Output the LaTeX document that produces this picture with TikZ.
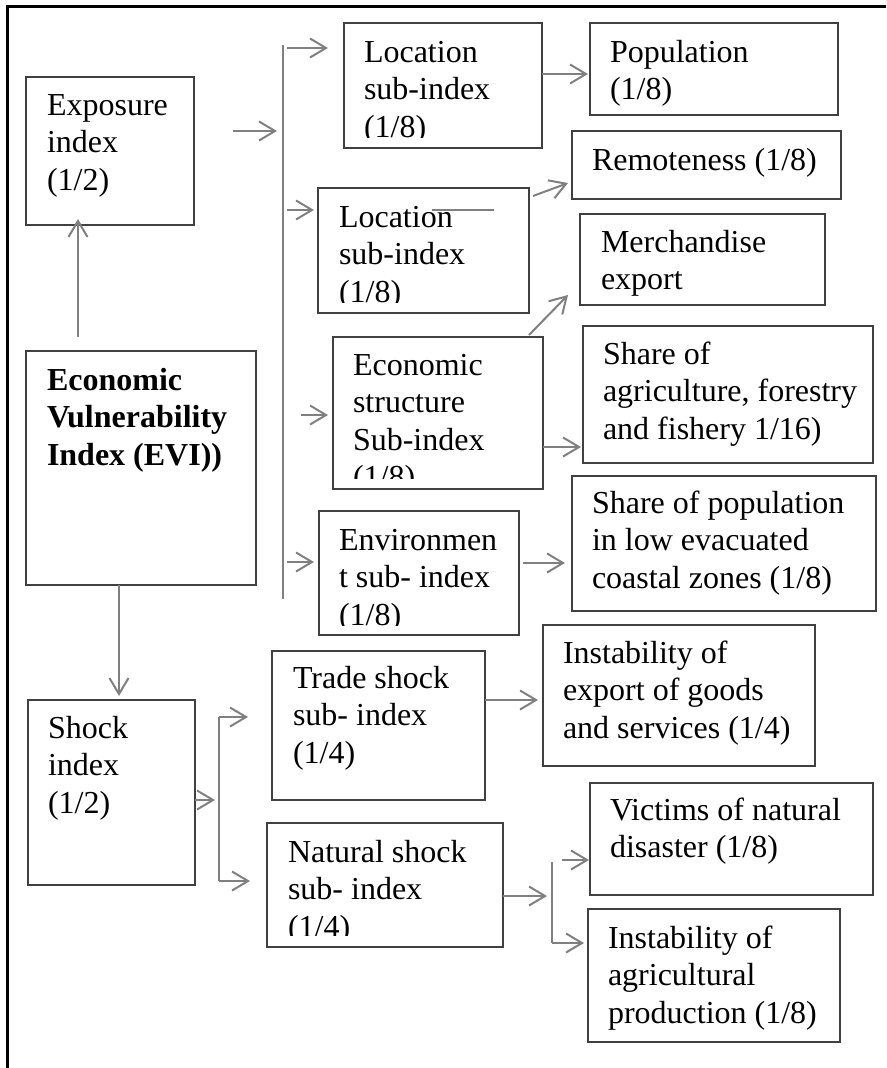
\documentclass[tikz,border=0pt]{standalone}
\usepackage{fontspec}
\setmainfont{Liberation Serif}
\usetikzlibrary{arrows.meta}
\definecolor{boxline}{HTML}{404040}
\definecolor{connc}{HTML}{808080}
\tikzset{
  box/.style={draw=boxline, line width=1.5pt, inner sep=0pt, outer sep=0pt, anchor=north west},
  conn/.style={draw=connc, line width=2pt, -{Straight Barb[length=16pt,width=19pt]}},
  plainline/.style={draw=connc, line width=2pt},
  lbl/.style={anchor=base west, inner sep=0pt, outer sep=0pt, font=\fontsize{32}{37.5}\selectfont},
}
\newcommand{\lns}[1]{\begin{tabular}[t]{@{}l@{}}#1\end{tabular}}
\begin{document}
\begin{tikzpicture}[x=1pt,y=-1pt]
\useasboundingbox (0,0) rectangle (886,1068);
% frame
\draw[line width=3pt, black] (7,1068) -- (7,6) -- (886,6);
% boxes
\node[box, minimum width=168pt, minimum height=148pt] (exp)   at (26,77)  {};
\node[box, minimum width=198pt, minimum height=125pt] (loc1)  at (344,23) {};
\node[box, minimum width=248pt, minimum height=92pt]  (pop)   at (590,23) {};
\node[box, minimum width=269pt, minimum height=68pt]  (rem)   at (572,131) {};
\node[box, minimum width=211pt, minimum height=125pt] (loc2)  at (318,188) {};
\node[box, minimum width=245pt, minimum height=91pt]  (mer)   at (580,214) {};
\node[box, minimum width=210pt, minimum height=152pt] (eco)   at (333,337) {};
\node[box, minimum width=290pt, minimum height=137pt] (agri)  at (583,326) {};
\node[box, minimum width=200pt, minimum height=124pt] (env)   at (319,511) {};
\node[box, minimum width=304pt, minimum height=135pt] (spop)  at (572,476) {};
\node[box, minimum width=230pt, minimum height=234pt] (evi)   at (26,351) {};
\node[box, minimum width=213pt, minimum height=149pt] (trade) at (272,651) {};
\node[box, minimum width=272pt, minimum height=141pt] (iexp)  at (543,625) {};
\node[box, minimum width=167pt, minimum height=185pt] (shock) at (28,700) {};
\node[box, minimum width=236pt, minimum height=124pt] (nat)   at (267,823) {};
\node[box, minimum width=283pt, minimum height=112pt] (vic)   at (590,783) {};
\node[box, minimum width=252pt, minimum height=133pt] (iagr)  at (588,909) {};
% texts
\node[lbl] (expT) at (47,115) {\lns{Exposure\\index\\(1/2)}};
\begin{scope}
  \clip (loc1.north west) rectangle ([yshift=11pt]loc1.south east);
  \node[lbl] (loc1T) at (364,62) {\lns{Location\\sub-index\\(1/8)}};
\end{scope}
\node[lbl] (popT) at (610,62) {\lns{Population\\(1/8)}};
\node[lbl] (remT) at (592,170) {Remoteness (1/8)};
\begin{scope}
  \clip (loc2.north west) rectangle ([yshift=11pt]loc2.south east);
  \node[lbl] (loc2T) at (339,227) {\lns{Location\\sub-index\\(1/8)}};
\end{scope}
\node[lbl] (merT) at (601,252) {\lns{Merchandise\\export}};
\begin{scope}
  \clip (eco.north west) rectangle ([yshift=11pt]eco.south east);
  \node[lbl] (ecoT) at (353,375) {\lns{Economic\\structure\\Sub-index\\(1/8)}};
\end{scope}
\node[lbl] (agriT) at (603,364) {\lns{Share of\\agriculture, forestry\\and fishery 1/16)}};
\begin{scope}
  \clip (env.north west) rectangle ([yshift=10pt]env.south east);
  \node[lbl] (envT) at (339,550) {\lns{Environmen\\t sub- index\\(1/8)}};
\end{scope}
\node[lbl] (spopT) at (592,513) {\lns{Share of population\\in low evacuated\\coastal zones (1/8)}};
\node[lbl] (eviT) at (47,390) {\bfseries\lns{Economic\\Vulnerability\\Index (EVI))}};
\node[lbl] (tradeT) at (293,688) {\lns{Trade shock\\sub- index\\(1/4)}};
\node[lbl] (iexpT) at (563,663) {\lns{Instability of\\export of goods\\and services (1/4)}};
\node[lbl] (shockT) at (48,738) {\lns{Shock\\index\\(1/2)}};
\begin{scope}
  \clip (nat.north west) rectangle ([yshift=12pt]nat.south east);
  \node[lbl] (natT) at (288,862) {\lns{Natural shock\\sub- index\\(1/4)}};
\end{scope}
\node[lbl] (vicT) at (610,820) {\lns{Victims of natural\\disaster (1/8)}};
\node[lbl] (iagrT) at (608,948) {\lns{Instability of\\agricultural\\production (1/8)}};
% connector coordinates
\coordinate (a1s) at (78,337);  \coordinate (a1e) at (78,219);
\coordinate (a2s) at (233,131); \coordinate (a2e) at (277,131);
\coordinate (b1t) at (283,45);  \coordinate (b1b) at (283,599);
\coordinate (a4s) at (287,48);  \coordinate (a4e) at (328,48);
\coordinate (a5s) at (287,210); \coordinate (a5e) at (314,210);
\coordinate (a6s) at (301,415); \coordinate (a6e) at (328,415);
\coordinate (a7s) at (287,562); \coordinate (a7e) at (314,562);
\coordinate (a8s) at (542,74);  \coordinate (a8e) at (588,74);
\coordinate (a9s) at (533,196); \coordinate (a9e) at (568,183);
\coordinate (a10s) at (529,335); \coordinate (a10e) at (568,295);
\coordinate (a11s) at (543,447); \coordinate (a11e) at (581,447);
\coordinate (a12s) at (523,563); \coordinate (a12e) at (565,563);
\coordinate (st1) at (432,210); \coordinate (st2) at (494,210);
\coordinate (a14s) at (119,585); \coordinate (a14e) at (119,696);
\coordinate (a15s) at (195,800); \coordinate (a15e) at (215,800);
\coordinate (b2t) at (219,717); \coordinate (b2b) at (219,881);
\coordinate (a17e) at (248,717); \coordinate (a18e) at (250,881);
\coordinate (a19s) at (485,700); \coordinate (a19e) at (538,700);
\coordinate (a20s) at (503,896); \coordinate (a20e) at (547,896);
\coordinate (b3t) at (552,862); \coordinate (b3b) at (552,943);
\coordinate (a22s) at (562,860); \coordinate (a22e) at (589,860);
\coordinate (a23e) at (584,943);
% connectors
\draw[conn] (a1s) -- (a1e);
\draw[conn] (a2s) -- (a2e);
\draw[plainline] (b1t) -- (b1b);
\draw[conn] (a4s) -- (a4e);
\draw[conn] (a5s) -- (a5e);
\draw[conn] (a6s) -- (a6e);
\draw[conn] (a7s) -- (a7e);
\draw[conn] (a8s) -- (a8e);
\draw[conn] (a9s) -- (a9e);
\draw[conn] (a10s) -- (a10e);
\draw[conn] (a11s) -- (a11e);
\draw[conn] (a12s) -- (a12e);
\draw[plainline] (st1) -- (st2);
\draw[conn] (a14s) -- (a14e);
\draw[conn] (a15s) -- (a15e);
\draw[plainline] (b2t) -- (b2b);
\draw[conn] (b2t) -- (a17e);
\draw[conn] (b2b) -- (a18e);
\draw[conn] (a19s) -- (a19e);
\draw[conn] (a20s) -- (a20e);
\draw[plainline] (b3t) -- (b3b);
\draw[conn] (a22s) -- (a22e);
\draw[conn] (b3b) -- (a23e);
\end{tikzpicture}
\end{document}
